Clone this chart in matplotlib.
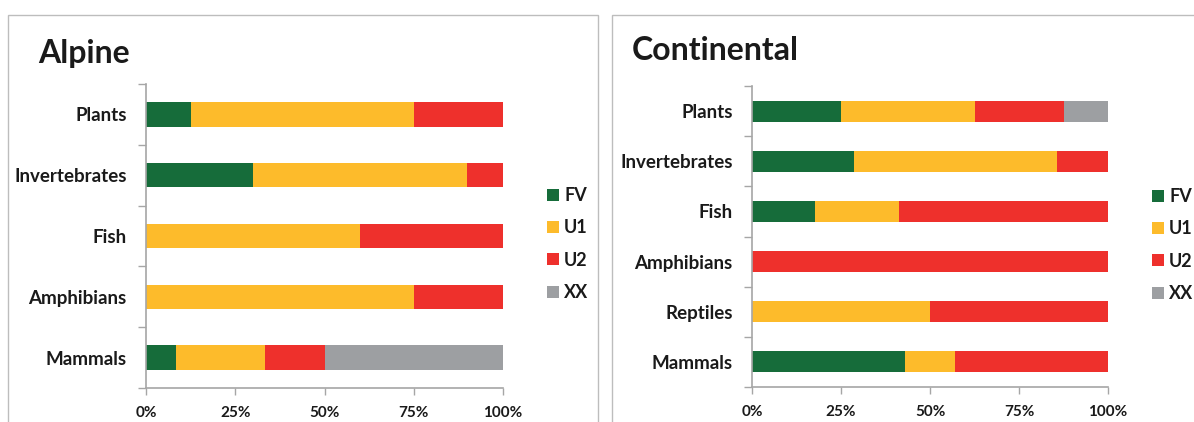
import matplotlib.pyplot as plt
from matplotlib.patches import Rectangle
from matplotlib.ticker import FixedLocator, PercentFormatter

plt.rcParams['font.family'] = ['Lato', 'DejaVu Sans']
plt.rcParams['font.weight'] = 'bold'

STATUS = ["FV", "U1", "U2", "XX"]
COLORS = ["#166c3a", "#fdbb2b", "#ee302c", "#9d9fa2"]

# Alpine (top to bottom)
alpine_groups = ["Plants", "Invertebrates", "Fish", "Amphibians", "Mammals"]
alpine_fv = [12.5, 30.0, 0.0, 0.0, 8.33]
alpine_u1 = [62.5, 60.0, 60.0, 75.0, 25.0]
alpine_u2 = [25.0, 10.0, 40.0, 25.0, 16.67]
alpine_xx = [0.0, 0.0, 0.0, 0.0, 50.0]

# Continental (top to bottom)
cont_groups = ["Plants", "Invertebrates", "Fish", "Amphibians", "Reptiles", "Mammals"]
cont_fv = [25.0, 28.57, 17.65, 0.0, 0.0, 42.86]
cont_u1 = [37.5, 57.14, 23.53, 0.0, 50.0, 14.29]
cont_u2 = [25.0, 14.29, 58.82, 100.0, 50.0, 42.86]
cont_xx = [12.5, 0.0, 0.0, 0.0, 0.0, 0.0]

EDGE = "#a6a6a6"
TXT = "#1a1a1a"
W, H = 1194, 422


def fx(px):
    return px / W


def fy(py):
    return 1 - py / H


def draw_panel(fig, box, rect, title, title_xy, groups, series, bar_h, leg_xy):
    # panel border
    bx0, by0, bx1 = box
    fig.patches.append(Rectangle((fx(bx0), -0.05), fx(bx1) - fx(bx0), fy(by0) + 0.05,
                                 transform=fig.transFigure, fill=False,
                                 edgecolor="#bdbdbd", lw=1.0, zorder=0))
    fig.text(fx(title_xy[0]), fy(title_xy[1]), title, fontsize=23, fontweight='bold',
             va='center', ha='left', color=TXT)

    x0, y0, x1, y1 = rect
    ax = fig.add_axes([fx(x0), fy(y1), fx(x1) - fx(x0), fy(y0) - fy(y1)])
    n = len(groups)
    ypos = list(range(n))
    left = [0.0] * n
    handles = []
    for name, vals, col in zip(STATUS, series, COLORS):
        h = ax.barh(ypos, vals, left=left, height=bar_h, color=col, edgecolor='none', label=name)
        handles.append(h)
        left = [l + v for l, v in zip(left, vals)]
    ax.set_xlim(0, 100)
    ax.set_ylim(n - 0.5, -0.5)
    ax.xaxis.set_major_locator(FixedLocator([0, 25, 50, 75, 100]))
    ax.xaxis.set_major_formatter(PercentFormatter(decimals=0))
    ax.yaxis.set_major_locator(FixedLocator([i - 0.5 for i in range(n + 1)]))
    ax.yaxis.set_major_formatter(plt.NullFormatter())
    ax.yaxis.set_minor_locator(FixedLocator(ypos))
    ax.set_yticklabels(groups, minor=True)
    ax.tick_params(axis='y', which='major', length=6, color=EDGE, width=1)
    ax.tick_params(axis='y', which='minor', length=0, pad=14, labelsize=13.5, labelcolor=TXT)
    ax.tick_params(axis='x', which='major', length=5, color=EDGE, width=1, pad=8,
                   labelsize=11, labelcolor=TXT)
    for s in ('top', 'right'):
        ax.spines[s].set_visible(False)
    for s in ('left', 'bottom'):
        ax.spines[s].set_color(EDGE)
        ax.spines[s].set_linewidth(1.2)
    for lab in ax.get_yticklabels(minor=True) + ax.get_xticklabels():
        lab.set_fontweight('bold')

    fig.legend(handles=handles, labels=STATUS, loc='upper left',
               bbox_to_anchor=(fx(leg_xy[0]), fy(leg_xy[1])), frameon=False,
               prop={'size': 13, 'weight': 'bold'}, handlelength=0.65, handleheight=0.65,
               handletextpad=0.3, labelspacing=0.85, borderpad=0, borderaxespad=0,
               labelcolor=TXT)
    return ax


fig = plt.figure(figsize=(W / 100, H / 100), dpi=100)

draw_panel(fig, (8, 15, 598), (146, 84, 503, 388), "Alpine", (38, 53),
           alpine_groups, [alpine_fv, alpine_u1, alpine_u2, alpine_xx], 0.4, (547, 187))
draw_panel(fig, (612, 15, 1200), (752, 86, 1108, 387), "Continental", (632, 50),
           cont_groups, [cont_fv, cont_u1, cont_u2, cont_xx], 0.42, (1152, 188))

fig.savefig("out.png", dpi=100)
